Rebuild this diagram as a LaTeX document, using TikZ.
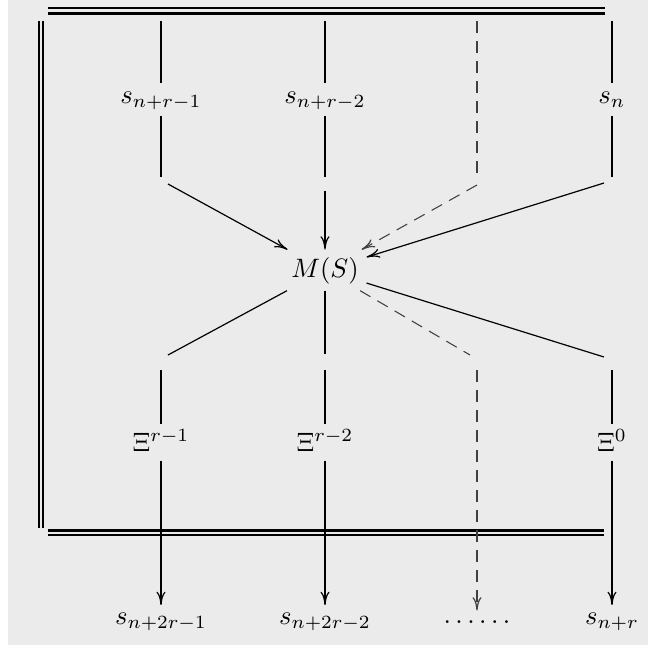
\documentclass[tikz,border=0pt]{standalone}
\usetikzlibrary{arrows.meta}
\definecolor{bg}{HTML}{EBEBEB}
\newcommand{\sixdots}{.\kern1.67pt.\kern1.67pt.\kern1.67pt.\kern1.67pt.\kern1.67pt.}
\begin{document}
\begin{tikzpicture}[x=0.375pt,y=-0.375pt,
 frame/.style={line width=0.8pt},
 heavy/.style={line width=1.1pt},
 thin/.style={line width=0.45pt},
 dsh/.style={line width=0.4pt, black!75, dash pattern=on 4.5pt off 3pt},
 tipped/.style={-{To[length=5pt,width=3.4pt,line width=0.45pt]}},
 lab/.style={inner sep=0pt, anchor=base},
 slab/.style={lab, text height=7.6pt, text depth=4.4pt},
 xlab/.style={lab, text height=10.3pt, text depth=3.2pt},
 olab/.style={lab, text height=6.9pt, text depth=2pt},
]
\useasboundingbox (0,0) rectangle (648,649);
\fill[bg] (8,0) rectangle (648,645);

% frame
\coordinate (ta1) at (48,7.7);  \coordinate (tb1) at (605,7.7);
\coordinate (ta2) at (48,13.5); \coordinate (tb2) at (605,13.5);
\coordinate (la1) at (39.2,21); \coordinate (lb1) at (39.2,528);
\coordinate (la2) at (43.3,21); \coordinate (lb2) at (43.3,528);
\coordinate (ba1) at (48,530.5); \coordinate (bb1) at (604,530.5);
\coordinate (ba2) at (48,535);   \coordinate (bb2) at (604,535);
\draw[frame] (ta1) -- (tb1);
\draw[frame] (ta2) -- (tb2);
\draw[frame] (la1) -- (lb1);
\draw[frame] (la2) -- (lb2);
\draw[frame] (ba1) -- (bb1);
\draw[frame] (ba2) -- (bb2);

% nodes
\node[slab] (s1) at (161,103.3) {$s_{n+r-1}$};
\node[slab] (s2) at (325,103.3) {$s_{n+r-2}$};
\node[slab] (s4) at (612,103.3) {$s_n$};
\node[lab, text height=10.2pt, text depth=4.8pt, minimum width=30.75pt] (M) at (325,277.3) {$M(S)$};
\node[xlab] (X1) at (161,451.5) {$\Xi^{r-1}$};
\node[xlab] (X2) at (325,451.5) {$\Xi^{r-2}$};
\node[xlab] (X4) at (612,451.5) {$\Xi^{0}$};
\node[olab] (o1) at (161,624) {$s_{n+2r-1}$};
\node[olab] (o2) at (325,624) {$s_{n+2r-2}$};
\node[lab, text height=4.5pt, text depth=1pt] (o3) at (477,623) {\sixdots};
\node[olab] (o4) at (612,624) {$s_{n+r}$};

% coordinates
\coordinate (c1a) at (161,21); \coordinate (c1b) at (161,177); \coordinate (c1d) at (168,184);
\coordinate (c2a) at (325,21); \coordinate (c2b) at (325,177); \coordinate (c2c) at (325,191);
\coordinate (c3a) at (477,21); \coordinate (c3b) at (477,177); \coordinate (c3d) at (477,185);
\coordinate (c4a) at (612,21); \coordinate (c4b) at (612,177); \coordinate (c4d) at (604,183);
\coordinate (l1d) at (168,355); \coordinate (l1a) at (161,370);
\coordinate (l2b) at (325,354); \coordinate (l2a) at (325,370);
\coordinate (l3d) at (470,355); \coordinate (l3a) at (477,370);
\coordinate (l4d) at (604,357); \coordinate (l4a) at (612,370);

% upper part
\draw[heavy] (c1a) -- (s1);
\draw[heavy] (s1) -- (c1b);
\draw[thin,tipped] (c1d) -- (M);
\draw[heavy] (c2a) -- (s2);
\draw[heavy] (s2) -- (c2b);
\draw[heavy,tipped] (c2c) -- (M);
\draw[dsh] (c3a) -- (c3b);
\draw[dsh,tipped] (c3d) -- (M);
\draw[heavy] (c4a) -- (s4);
\draw[heavy] (s4) -- (c4b);
\draw[thin,tipped] (c4d) -- (M);

% lower part
\draw[thin] (M) -- (l1d);
\draw[heavy] (l1a) -- (X1);
\draw[heavy,tipped] (X1) -- (o1);
\draw[heavy] (M) -- (l2b);
\draw[heavy] (l2a) -- (X2);
\draw[heavy,tipped] (X2) -- (o2);
\draw[dsh] (M) -- (l3d);
\draw[dsh,tipped] (l3a) -- (o3);
\draw[thin] (M) -- (l4d);
\draw[heavy] (l4a) -- (X4);
\draw[heavy,tipped] (X4) -- (o4);
\end{tikzpicture}
\end{document}
